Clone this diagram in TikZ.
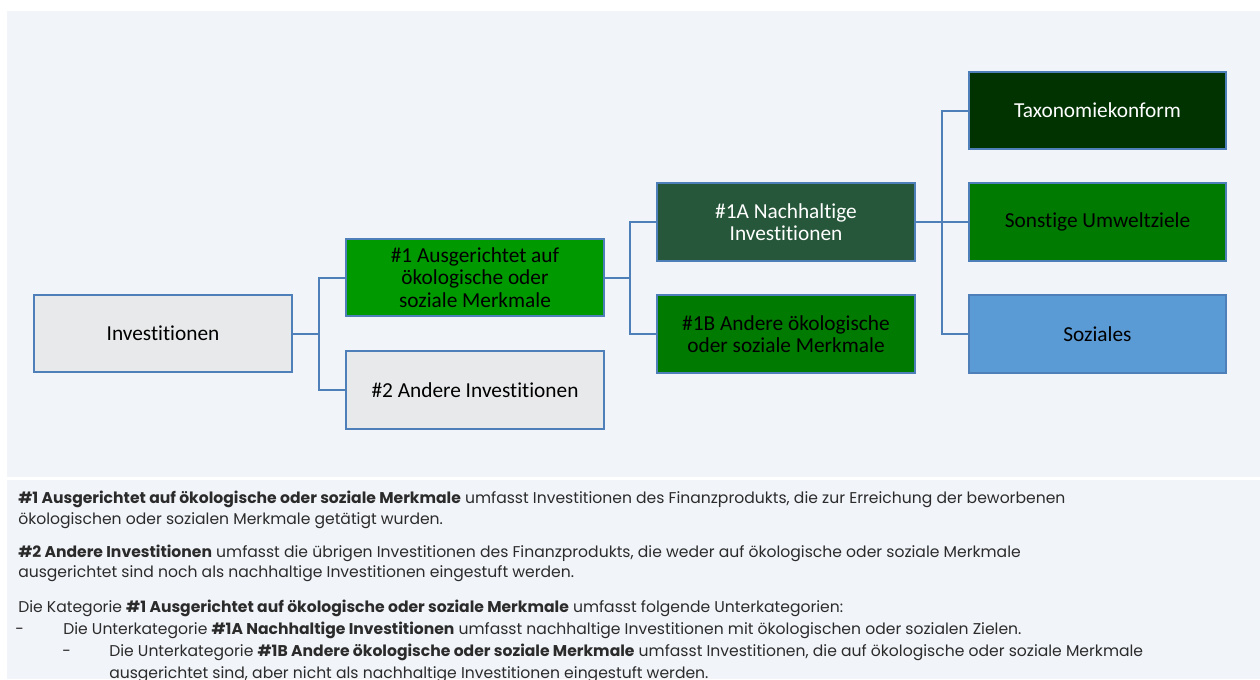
\documentclass[tikz,border=0pt]{standalone}
\usepackage{fontspec}
\usepackage{xcolor}
\usepackage{tikz}
\usetikzlibrary{positioning}

\newfontfamily\boxfont{Carlito}[Ligatures=NoCommon]
\newfontfamily\txtfont{Poppins}

\definecolor{panelbg}{HTML}{F1F4F9}
\definecolor{linkblue}{HTML}{4F7FB8}
\definecolor{greybox}{HTML}{E8E9EA}
\definecolor{brightgreen}{HTML}{009900}
\definecolor{nachgreen}{HTML}{27573A}
\definecolor{midgreen}{HTML}{007A00}
\definecolor{taxgreen}{HTML}{003300}
\definecolor{sozblue}{HTML}{5B9BD5}
\definecolor{txtgrey}{HTML}{2B2B2B}

\tikzset{
    box/.style={draw=linkblue, line width=1.5pt, minimum width=193pt, minimum height=58pt,
        align=center, inner sep=2pt, font=\boxfont\fontsize{16}{17}\selectfont},
    link/.style={draw=linkblue, line width=1.5pt},
    line/.style={anchor=base west, inner sep=0pt, text=txtgrey, font=\txtfont\fontsize{11.7}{13}\selectfont}
}

\begin{document}
\begin{tikzpicture}[x=0.75pt, y=-0.75pt]
    \useasboundingbox (0,0) rectangle (1260,679);

    % Panels
    \fill[panelbg] (7,11) rectangle (1260,477);
    \fill[panelbg] (7,480) rectangle (1260,679);

    % Left boxes
    \node[box, fill=greybox] (inv) at (163,333.5) {Investitionen};
    \node[box, fill=brightgreen] (aus) at (475,277.5) {\#1 Ausgerichtet auf\\ökologische oder\\soziale Merkmale};
    \node[box, fill=greybox] (andere) at (475,390) {\#2 Andere Investitionen};

    % Middle boxes
    \node[box, fill=nachgreen, text=white] (nach) at (786,222) {\#1A Nachhaltige\\Investitionen};
    \node[box, fill=midgreen] (andb) at (786,334) {\#1B Andere ökologische\\oder soziale Merkmale};

    % Right boxes
    \foreach \name/\y/\col/\tcol/\txt in {tax/110.5/taxgreen/white/Taxonomiekonform,
        umw/222/midgreen/black/{Sonstige Umweltziele}, soz/334/sozblue/black/Soziales} {
        \node[box, fill=\col, text=\tcol] (\name) at (1097.5,\y) {\txt};
    }

    % Connectors
    \foreach \t in {aus,andere}
        \draw[link] (inv.east) -- ++(26,0) |- (\t.west);
    \foreach \t in {nach,andb}
        \draw[link] (aus.east) -- ++(25,0) |- (\t.west);
    \foreach \t in {tax,umw,soz}
        \draw[link] (nach.east) -- ++(26,0) |- (\t.west);

    % Explanation text
    \node[line] (l1) at (18,503) {\textbf{\#1 Ausgerichtet auf ökologische oder soziale Merkmale} umfasst Investitionen des Finanzprodukts, die zur Erreichung der beworbenen};
    \node[line] (l2) at (18,524) {ökologischen oder sozialen Merkmale getätigt wurden.};
    \node[line] (l3) at (18,557) {\textbf{\#2 Andere Investitionen} umfasst die übrigen Investitionen des Finanzprodukts, die weder auf ökologische oder soziale Merkmale};
    \node[line] (l4) at (18,577) {ausgerichtet sind noch als nachhaltige Investitionen eingestuft werden.};
    \node[line] (l5) at (18,612) {Die Kategorie \textbf{\#1 Ausgerichtet auf ökologische oder soziale Merkmale} umfasst folgende Unterkategorien:};
    \node[line] (d6) at (15,634) {-};
    \node[line] (l6) at (63,634) {Die Unterkategorie \textbf{\#1A Nachhaltige Investitionen} umfasst nachhaltige Investitionen mit ökologischen oder sozialen Zielen.};
    \node[line] (d7) at (62,656) {-};
    \node[line] (l7) at (109,656) {Die Unterkategorie \textbf{\#1B Andere ökologische oder soziale Merkmale} umfasst Investitionen, die auf ökologische oder soziale Merkmale};
    \node[line] (l8) at (109,678) {ausgerichtet sind, aber nicht als nachhaltige Investitionen eingestuft werden.};
\end{tikzpicture}
\end{document}
